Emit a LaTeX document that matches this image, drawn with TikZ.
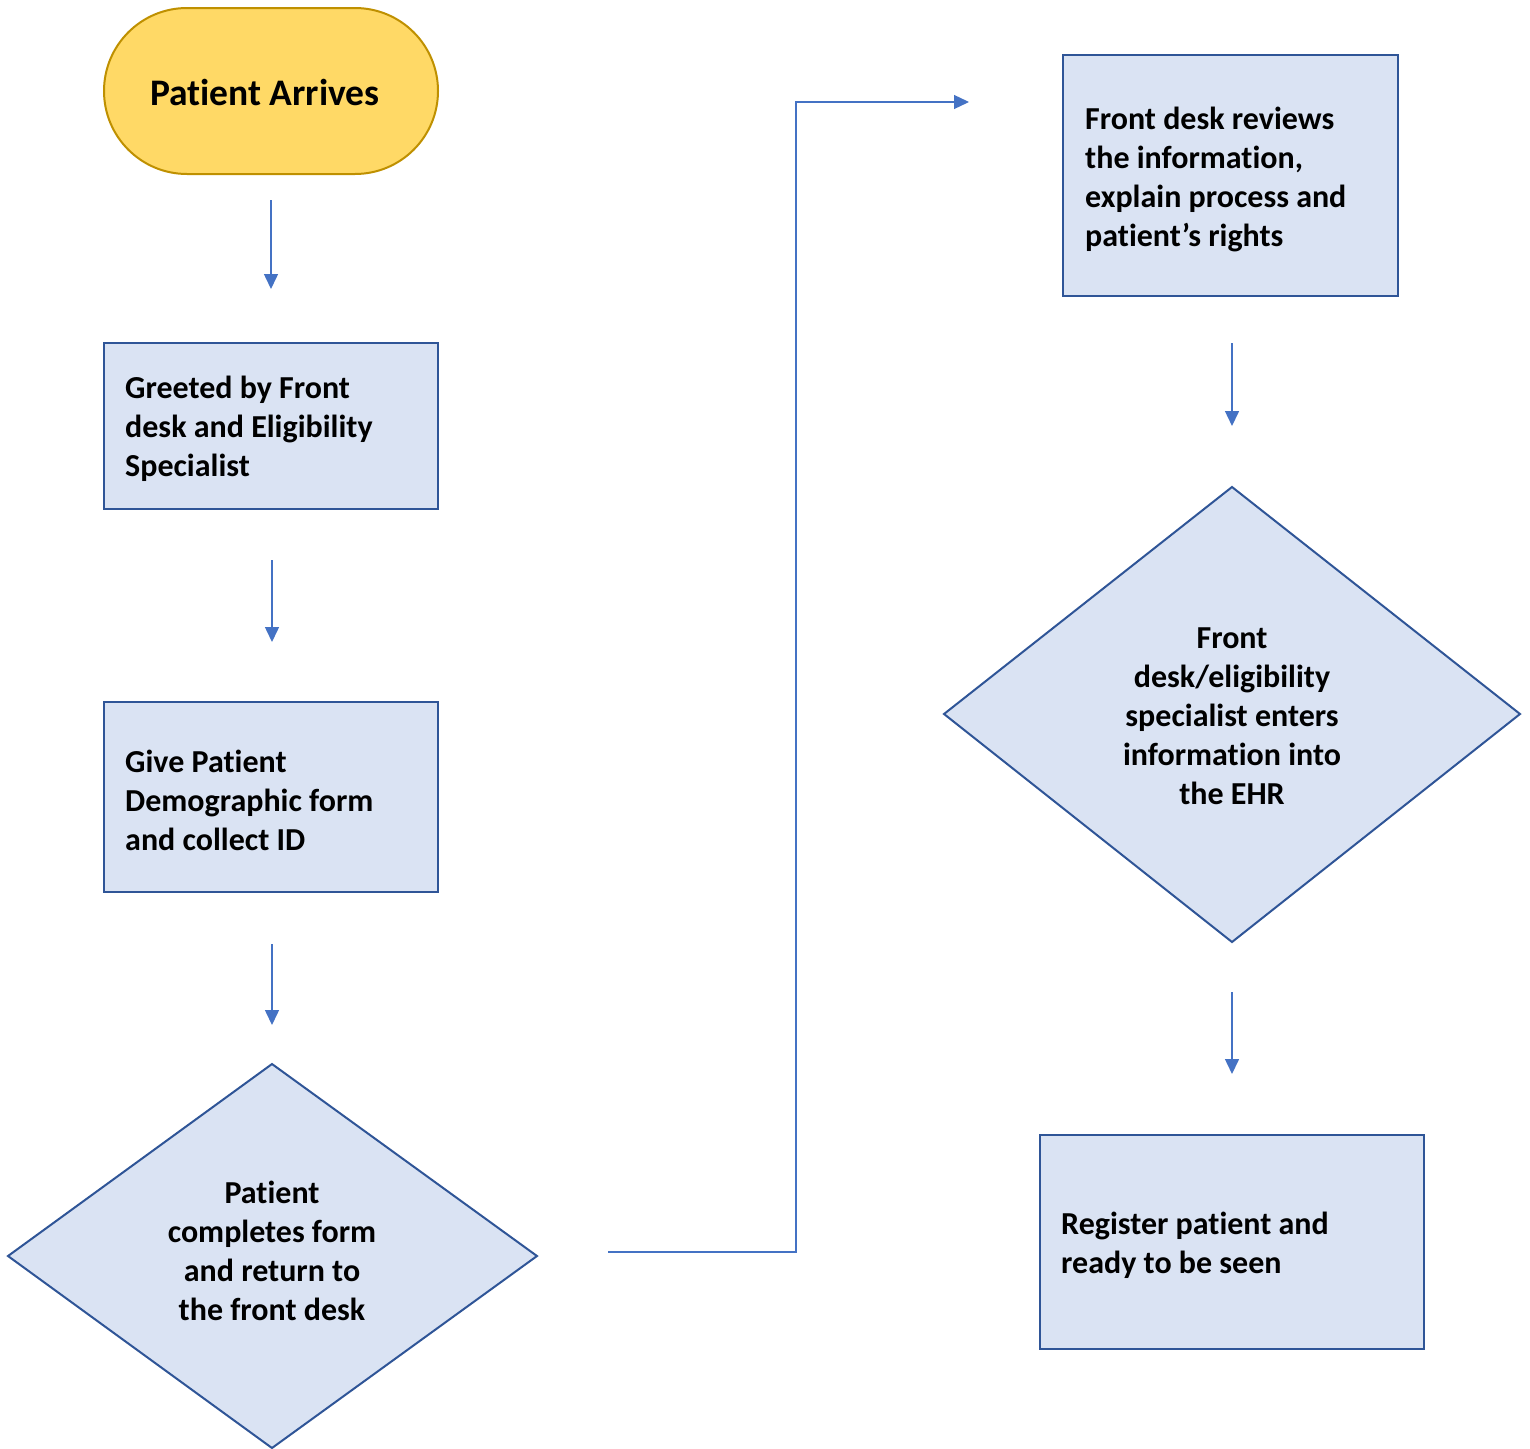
\documentclass[tikz,border=0pt]{standalone}
\usepackage{fontspec}
\setmainfont[Ligatures=NoCommon]{Carlito}
\usetikzlibrary{arrows.meta}
\definecolor{boxfill}{HTML}{DAE3F3}
\definecolor{boxline}{HTML}{2F5597}
\definecolor{termfill}{HTML}{FFD966}
\definecolor{termline}{HTML}{BF9000}
\definecolor{arrowc}{HTML}{4472C4}
\tikzset{
  txt/.style={inner sep=0pt, font=\bfseries\fontsize{32}{39}\selectfont, align=left},
  ctxt/.style={inner sep=0pt, font=\bfseries\fontsize{32}{39}\selectfont, align=center},
  procbox/.style={draw=boxline, fill=boxfill, line width=2pt},
  flowarrow/.style={draw=arrowc, line width=1.5pt, -{Triangle[length=15pt,width=14pt]}},
}
\begin{document}
\begin{tikzpicture}[x=1pt,y=-1pt]
\useasboundingbox (0,0) rectangle (1530,1448);
% terminal
\draw[draw=termline, fill=termfill, line width=2pt, rounded corners=83pt] (104,8) rectangle (438,174);
\node[ctxt, font=\bfseries\fontsize{37.5}{39}\selectfont] (arrive) at (265,92) {Patient Arrives};
% box 1
\draw[procbox] (104,343) rectangle (438,509);
\node[txt, anchor=west] (greet) at (125,429) {Greeted by Front\\desk and Eligibility\\Specialist};
% box 2
\draw[procbox] (104,702) rectangle (438,892);
\node[txt, anchor=west] (give) at (125,800) {Give Patient\\Demographic form\\and collect ID};
% diamond 1
\draw[procbox] (272,1064) -- (537,1256) -- (272,1448) -- (8,1256) -- cycle;
\node[ctxt] (complete) at (272,1251) {Patient\\completes form\\and return to\\the front desk};
% box 3
\draw[procbox] (1063,55) rectangle (1398,296);
\node[txt, anchor=west] (review) at (1085,179) {Front desk reviews\\the information,\\explain process and\\patient’s rights};
% diamond 2
\draw[procbox] (1232,487) -- (1520,714) -- (1232,942) -- (944,714) -- cycle;
\node[ctxt] (enter) at (1232,716) {Front\\desk/eligibility\\specialist enters\\information into\\the EHR};
% box 4
\draw[procbox] (1040,1135) rectangle (1424,1349);
\node[txt, anchor=west] (register) at (1061,1245) {Register patient and\\ready to be seen};
% arrows
\coordinate (a1s) at (271,200); \coordinate (a1e) at (271,289);
\coordinate (a2s) at (272,560); \coordinate (a2e) at (272,642);
\coordinate (a3s) at (272,944); \coordinate (a3e) at (272,1025);
\coordinate (a4s) at (608,1252); \coordinate (a4e) at (969,102);
\coordinate (a5s) at (1232,343); \coordinate (a5e) at (1232,426);
\coordinate (a6s) at (1232,992); \coordinate (a6e) at (1232,1074);
\draw[flowarrow] (a1s) -- (a1e);
\draw[flowarrow] (a2s) -- (a2e);
\draw[flowarrow] (a3s) -- (a3e);
\draw[flowarrow, line width=1.2pt] (a4s) -- (796,1252) -- (796,102) -- (a4e);
\draw[flowarrow] (a5s) -- (a5e);
\draw[flowarrow] (a6s) -- (a6e);
\end{tikzpicture}
\end{document}
